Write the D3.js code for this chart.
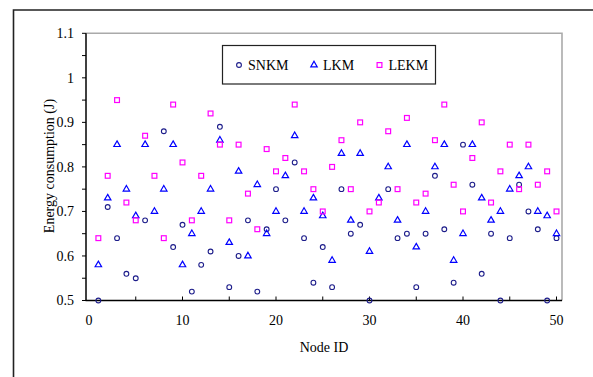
<!DOCTYPE html>
<html>
<head>
<meta charset="utf-8">
<script src="https://cdn.jsdelivr.net/npm/d3@7"></script>
<style>
  body { margin: 0; background: #fff; }
  svg { display: block; }
</style>
</head>
<body>
<div id="chart"></div>
<script>
// node ids on the x axis
const nodeIds = [1, 2, 3, 4, 5, 6, 7, 8, 9, 10, 11, 12, 13, 14, 15, 16, 17, 18, 19, 20,
  21, 22, 23, 24, 25, 26, 27, 28, 29, 30, 31, 32, 33, 34, 35, 36, 37, 38, 39, 40,
  41, 42, 43, 44, 45, 46, 47, 48, 49, 50];

// energy per node (null = not visible in the plot)
const snkm = [0.50, 0.71, 0.64, 0.56, 0.55, 0.68, null, 0.88, 0.62, 0.67,
  0.52, 0.58, 0.61, 0.89, 0.53, 0.60, 0.68, 0.52, 0.66, 0.75,
  0.68, 0.81, 0.64, 0.54, 0.62, 0.53, 0.75, 0.65, 0.67, 0.50,
  null, 0.75, 0.64, 0.65, 0.53, 0.65, 0.78, 0.66, 0.54, 0.85,
  0.76, 0.56, 0.65, 0.50, 0.64, 0.76, 0.70, 0.66, 0.50, 0.64];
const lkm = [0.58, 0.73, 0.85, 0.75, 0.69, 0.85, 0.70, 0.75, 0.85, 0.58,
  0.65, 0.70, 0.75, 0.86, 0.63, 0.79, 0.60, 0.76, 0.65, 0.70,
  0.78, 0.87, 0.70, 0.73, 0.69, 0.59, 0.83, 0.68, 0.83, 0.61,
  0.73, 0.80, 0.68, 0.85, 0.62, 0.70, 0.80, 0.85, 0.59, 0.65,
  0.85, 0.73, 0.68, 0.70, 0.75, 0.78, 0.80, 0.70, 0.69, 0.65];
const lekm = [0.64, 0.78, 0.95, 0.72, 0.68, 0.87, 0.78, 0.64, 0.94, 0.81,
  0.68, 0.78, 0.92, 0.85, 0.68, 0.85, 0.74, 0.66, 0.84, 0.79,
  0.82, 0.94, 0.79, 0.75, 0.70, 0.80, 0.86, 0.75, 0.90, 0.70,
  0.72, 0.88, 0.75, 0.91, 0.72, 0.74, 0.86, 0.94, 0.76, 0.70,
  0.82, 0.90, 0.72, 0.79, 0.85, 0.75, 0.85, 0.76, 0.79, 0.70];

const seriesNames = ['SNKM', 'LKM', 'LEKM'];
const xTicks = [0, 10, 20, 30, 40, 50];
const yTicks = [0.5, 0.6, 0.7, 0.8, 0.9, 1.0, 1.1];

const width = 593, height = 377;
const font = '"Liberation Serif", "Times New Roman", serif';
const plot = { left: 86, right: 562, top: 33.3, bottom: 300.5 };

const svg = d3.select('#chart').append('svg')
  .attr('width', width)
  .attr('height', height)
  .style('font-family', font);

// outer frame (only top and left show in the crop)
svg.append('path')
  .attr('d', `M13.5,${height} V10 H${width}`)
  .attr('fill', 'none')
  .attr('stroke', '#222')
  .attr('stroke-width', 1.6);

const x = d3.scaleLinear().domain([0, 50]).range([89, 556.5]);
const y = d3.scaleLinear().domain([0.5, 1.1]).range([plot.bottom, plot.top]);

// grey top/right border of plot area
svg.append('path')
  .attr('d', `M${plot.left},${plot.top} H${plot.right} V${plot.bottom}`)
  .attr('fill', 'none')
  .attr('stroke', '#aaa')
  .attr('stroke-width', 1.6);

// y axis, minor ticks every 0.05
const yAxis = svg.append('g').attr('transform', `translate(${plot.left},0)`);
yAxis.selectAll('line.tick')
  .data(d3.range(0.5, 1.1001, 0.05))
  .enter().append('line')
  .attr('class', 'tick')
  .attr('x1', -4).attr('x2', 0)
  .attr('y1', d => y(d)).attr('y2', d => y(d))
  .attr('stroke', '#000');
yAxis.selectAll('text')
  .data(yTicks)
  .enter().append('text')
  .attr('x', -12)
  .attr('y', d => y(d))
  .attr('dy', '0.35em')
  .attr('text-anchor', 'end')
  .style('font-family', font)
  .style('font-size', '14px')
  .text(d => String(+d.toFixed(1)));
yAxis.append('line')
  .attr('y1', plot.top).attr('y2', plot.bottom + 0.5)
  .attr('stroke', '#000').attr('stroke-width', 1.5);

// x axis, ticks pointing in every 5
const xAxis = svg.append('g').attr('transform', `translate(0,${plot.bottom})`);
xAxis.selectAll('line.tick')
  .data(d3.range(5, 51, 5))
  .enter().append('line')
  .attr('class', 'tick')
  .attr('x1', d => x(d)).attr('x2', d => x(d))
  .attr('y1', -4).attr('y2', 0)
  .attr('stroke', '#000');
xAxis.selectAll('text')
  .data(xTicks)
  .enter().append('text')
  .attr('x', d => x(d))
  .attr('y', 24)
  .attr('text-anchor', 'middle')
  .style('font-family', font)
  .style('font-size', '14px')
  .text(d => d);
xAxis.append('line')
  .attr('x1', plot.left - 0.5).attr('x2', plot.right)
  .attr('stroke', '#000').attr('stroke-width', 1.5);

// axis titles
svg.append('text')
  .attr('x', 324).attr('y', 352)
  .attr('text-anchor', 'middle')
  .style('font-family', font)
  .style('font-size', '14px')
  .text('Node ID');
svg.append('text')
  .attr('transform', 'translate(54,166) rotate(-90)')
  .attr('text-anchor', 'middle')
  .style('font-family', font)
  .style('font-size', '14px')
  .text('Energy consumption (J)');

// marker drawers
const triangle = d3.symbol().type(d3.symbolTriangle).size(18);
const markers = {
  SNKM: (g) => g.append('circle').attr('r', 2.4)
    .attr('fill', 'none').attr('stroke', '#1c1c8a').attr('stroke-width', 1.1),
  LKM: (g) => g.append('path').attr('d', triangle)
    .attr('fill', 'none').attr('stroke', '#0000ff').attr('stroke-width', 1.2),
  LEKM: (g) => g.append('rect').attr('x', -2.4).attr('y', -2.4)
    .attr('width', 4.8).attr('height', 4.8)
    .attr('fill', 'none').attr('stroke', '#ff00ff').attr('stroke-width', 1.2),
};

const seriesData = { SNKM: snkm, LKM: lkm, LEKM: lekm };

seriesNames.forEach(name => {
  const pts = nodeIds.map((id, i) => ({ id, v: seriesData[name][i] }))
    .filter(d => d.v != null);
  svg.append('g').attr('class', name)
    .selectAll('g')
    .data(pts)
    .enter().append('g')
    .attr('transform', d => `translate(${x(d.id)},${y(d.v)})`)
    .each(function () { markers[name](d3.select(this)); });
});

// legend
const legend = svg.append('g');
legend.append('rect')
  .attr('x', 222.5).attr('y', 45.5)
  .attr('width', 213).attr('height', 38.5)
  .attr('fill', '#fff')
  .attr('stroke', '#222')
  .attr('stroke-width', 1.2);
const legendX = [239, 314, 379.5];
seriesNames.forEach((name, i) => {
  const item = legend.append('g').attr('transform', `translate(${legendX[i]},65)`);
  markers[name](item);
  item.append('text')
    .attr('x', 9)
    .attr('dy', '0.35em')
    .style('font-family', font)
    .style('font-size', '14px')
    .text(name);
});
</script>
</body>
</html>
